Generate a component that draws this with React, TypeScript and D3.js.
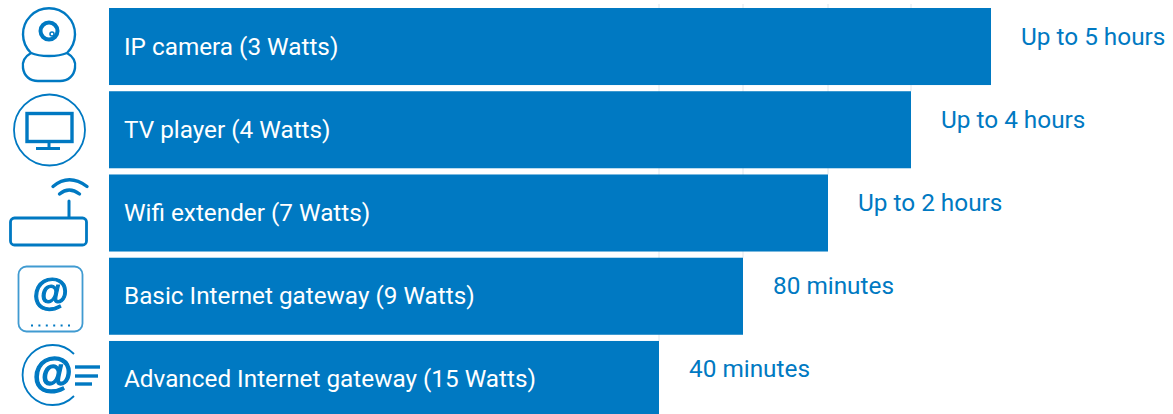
import { useEffect, useRef } from 'react';
import * as d3 from 'd3';

const WIDTH = 1173;
const HEIGHT = 414;
const BLUE = '#0079c2';

const categories = [
  'IP camera (3 Watts)',
  'TV player (4 Watts)',
  'Wifi extender (7 Watts)',
  'Basic Internet gateway (9 Watts)',
  'Advanced Internet gateway (15 Watts)',
];
const barLengths = [882, 802, 719, 634, 550];
const runtimeLabels = ['Up to 5 hours', 'Up to 4 hours', 'Up to 2 hours', '80 minutes', '40 minutes'];
const gridTicks = [550, 634, 719, 802];

function CameraIcon() {
  return (
    <g fill="none" stroke={BLUE}>
      <path
        d="M31 53 A26 26 0 1 1 67 53 C74 57 76 62 75 68 C74 76 68 81 60 81 L38 81 C30 81 24 76 23 68 C22 62 24 57 31 53 Z"
        strokeWidth={2.4}
      />
      <path d="M31 53 C40 57 58 57 67 53" strokeWidth={2.4} />
      <circle cx={49} cy={31} r={8.5} strokeWidth={4} />
      <circle cx={52} cy={34} r={2} strokeWidth={1.5} fill="#fff" />
    </g>
  );
}

function TvIcon() {
  return (
    <g fill="none" stroke={BLUE}>
      <circle cx={49.5} cy={130} r={35.5} strokeWidth={1.8} />
      <rect x={27} y={113.5} width={45} height={28} strokeWidth={3.4} />
      <path d="M49 143 V148" strokeWidth={3} />
      <path d="M36 148.5 H60" strokeWidth={3} />
    </g>
  );
}

function RouterIcon() {
  return (
    <g fill="none" stroke={BLUE} strokeLinecap="round">
      <rect x={10.5} y={218} width={76} height={27} rx={4} strokeWidth={2.8} />
      <path d="M69 217 V201" strokeWidth={3} />
      <path d="M59.5 194 Q69 186 79.5 194" strokeWidth={3.4} />
      <path d="M53 186.5 Q69 173 87 186.5" strokeWidth={3.4} />
    </g>
  );
}

function GatewayIcon() {
  return (
    <g>
      <rect x={18.5} y={266.5} width={64} height={65} rx={8} fill="none" stroke={BLUE} strokeOpacity={0.75} strokeWidth={1.8} />
      <text x={50} y={305} textAnchor="middle" fontFamily="'Liberation Sans', sans-serif" fontWeight={700} fontStyle="italic" fontSize={37} fill={BLUE} stroke={BLUE} strokeWidth={1.1}>
        @
      </text>
      <path d="M31 325.5 H70" fill="none" stroke={BLUE} strokeWidth={2} strokeDasharray="2 5.4" />
    </g>
  );
}

function AdvancedGatewayIcon() {
  return (
    <g>
      <path d="M74 354 A30 30 0 1 0 74 396" fill="none" stroke={BLUE} strokeWidth={1.8} />
      <text x={52} y={387} textAnchor="middle" fontFamily="'Liberation Sans', sans-serif" fontWeight={700} fontStyle="italic" fontSize={41} fill={BLUE} stroke={BLUE} strokeWidth={1.3}>
        @
      </text>
      <g fill="none" stroke={BLUE} strokeWidth={3.4}>
        <path d="M75 367 H100" />
        <path d="M75 376 H98" />
        <path d="M75 384 H92" />
      </g>
    </g>
  );
}

export default function App() {
  const svgRef = useRef<SVGSVGElement>(null);

  useEffect(() => {
    if (!svgRef.current) return;

    const svg = d3.select(svgRef.current);
    svg.select('.chart').remove();
    const g = svg.append('g').attr('class', 'chart');

    const x = d3.scaleLinear().domain([0, 882]).range([109, 991]);
    const y = d3.scaleBand().domain(categories).range([8, 418]).paddingInner(0.0745).paddingOuter(0);

    // grid only shows above the bar that ends on it
    g.selectAll('line.grid')
      .data(gridTicks)
      .join('line')
      .attr('class', 'grid')
      .attr('x1', d => x(d))
      .attr('x2', d => x(d))
      .attr('y1', 4)
      .attr('y2', d => y(categories[barLengths.indexOf(d)])!)
      .attr('stroke', '#dfe6ec')
      .attr('stroke-width', 1);

    g.selectAll('rect.bar')
      .data(categories)
      .join('rect')
      .attr('class', 'bar')
      .attr('x', x(0))
      .attr('y', d => y(d)!)
      .attr('width', (_, i) => x(barLengths[i]) - x(0))
      .attr('height', y.bandwidth())
      .attr('fill', BLUE);

    g.selectAll('text.name')
      .data(categories)
      .join('text')
      .attr('class', 'name')
      .attr('x', 124)
      .attr('y', d => y(d)! + y.bandwidth() / 2 + 8)
      .attr('font-family', 'Roboto, sans-serif')
      .attr('font-size', 24.3)
      .attr('fill', '#fff')
      .text(d => d);

    g.selectAll('text.runtime')
      .data(runtimeLabels)
      .join('text')
      .attr('class', 'runtime')
      .attr('x', (_, i) => x(barLengths[i]) + 30)
      .attr('y', (_, i) => y(categories[i])! + y.bandwidth() / 2 - 2)
      .attr('font-family', 'Roboto, sans-serif')
      .attr('font-size', 24.35)
      .attr('fill', BLUE)
      .text(d => d);
  }, []);

  return (
    <svg
      ref={svgRef}
      width={WIDTH}
      height={HEIGHT}
      style={{ position: 'absolute', left: 0, top: 0, background: '#fff' }}
    >
      <defs>
        <filter id="soft" x="-5%" y="-5%" width="110%" height="110%">
          <feGaussianBlur stdDeviation={0.5} />
        </filter>
      </defs>
      <g filter="url(#soft)">
        <CameraIcon />
        <TvIcon />
        <RouterIcon />
        <GatewayIcon />
        <AdvancedGatewayIcon />
      </g>
    </svg>
  );
}
